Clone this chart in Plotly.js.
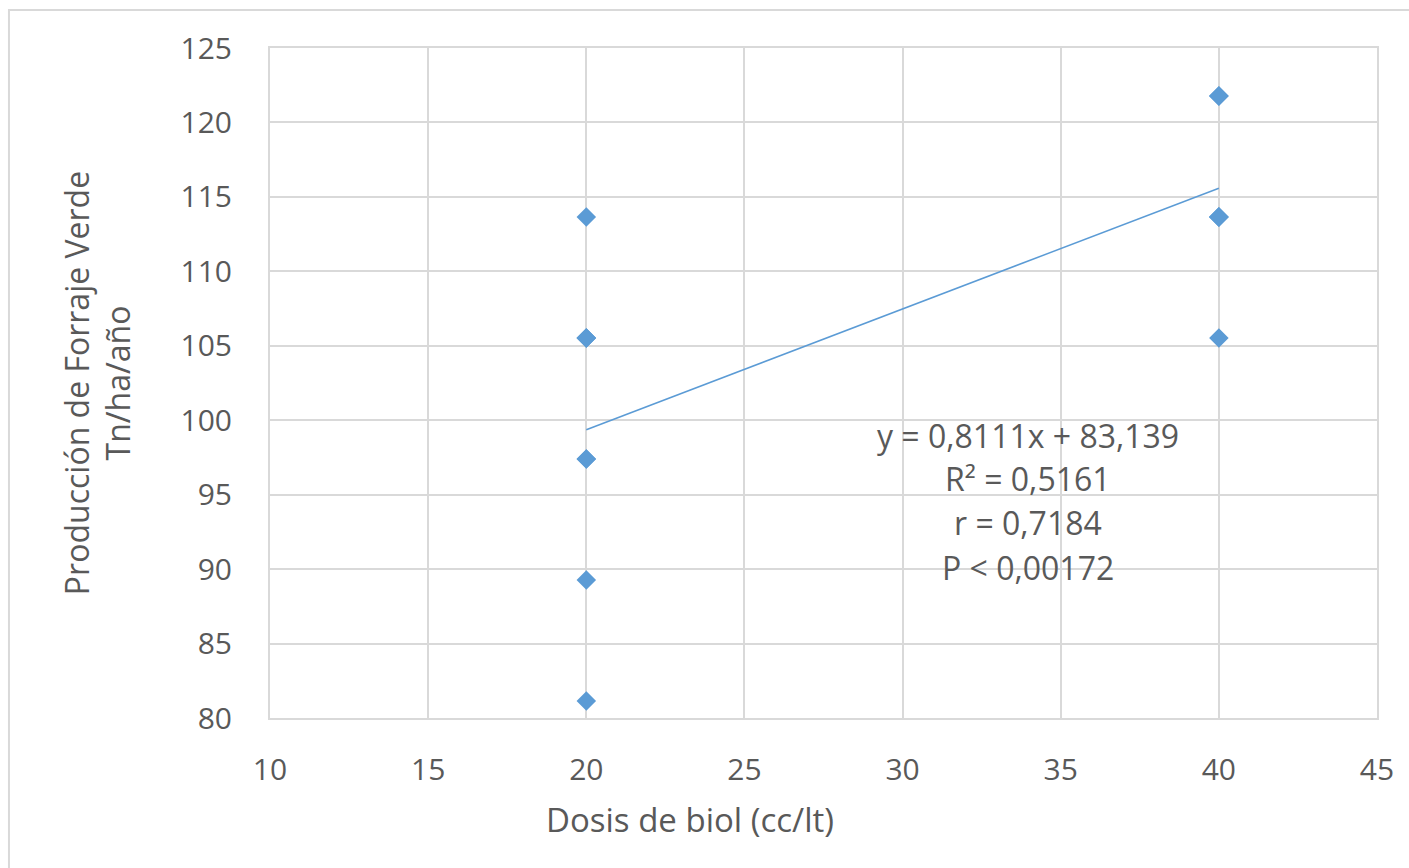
<!DOCTYPE html>
<html>
<head>
<meta charset="utf-8">
<script src="https://cdn.plot.ly/plotly-3.0.1.min.js"></script>
<style>html,body{margin:0;padding:0;background:#fff;}#chart{width:1409px;height:868px;}</style>
</head>
<body>
<div id="chart"></div>
<script>
// Data (duplicates overlap at the same positions)
const dosis = [20, 20, 20, 20, 20, 20, 20, 20, 40, 40, 40, 40, 40, 40, 40, 40];
const produccion = [81.14, 89.27, 97.4, 97.4, 105.52, 105.52, 105.52, 113.65,
                    105.52, 113.65, 113.65, 113.65, 113.65, 121.78, 121.78, 121.78];
const trendSlope = 0.8111;
const trendIntercept = 83.139;
const trendX = [20, 40];
const statsLines = ["y = 0,8111x + 83,139", "R² = 0,5161", "r = 0,7184", "P < 0,00172"];
const statsY = [99.0, 96.1, 93.1, 90.1];
const xTicks = [10, 15, 20, 25, 30, 35, 40, 45];
const yTicks = [80, 85, 90, 95, 100, 105, 110, 115, 120, 125];
const xTitle = "Dosis de biol (cc/lt)";
const yTitle = "Producción de Forraje Verde<br>Tn/ha/año";

const FONT = "Open Sans, Liberation Sans, sans-serif";
const TXT = "#595959";
const BLUE = "#5b9bd5";
const GRID = "#d9d9d9";

const traces = [
  {
    x: dosis, y: produccion, type: "scatter", mode: "markers",
    marker: {symbol: "diamond", size: 15, color: BLUE, line: {width: 0}},
    hoverinfo: "x+y", showlegend: false
  },
  {
    x: trendX, y: trendX.map(v => trendSlope * v + trendIntercept),
    type: "scatter", mode: "lines",
    line: {color: BLUE, width: 1.5}, hoverinfo: "skip", showlegend: false
  }
];

const annotations = statsLines.map((t, i) => ({
  x: 33.96, y: statsY[i], xref: "x", yref: "y", text: t, showarrow: false,
  font: {family: FONT, size: 32, color: TXT}, xanchor: "center", yanchor: "middle"
}));
annotations.push({
  x: 0.3794, y: -0.152, xref: "paper", yref: "paper", text: xTitle, showarrow: false,
  font: {family: FONT, size: 33, color: TXT}, xanchor: "center", yanchor: "middle"
});

const layout = {
  width: 1409, height: 868,
  margin: {l: 270, r: 32, t: 48, b: 150},
  paper_bgcolor: "#ffffff", plot_bgcolor: "#ffffff",
  showlegend: false,
  xaxis: {
    range: [10, 45], tickvals: xTicks, ticktext: xTicks.map(String),
    showgrid: true, gridcolor: GRID, gridwidth: 2,
    zeroline: false, showline: true, linecolor: GRID, linewidth: 2, mirror: true,
    ticks: "", ticklabelstandoff: 24,
    tickfont: {family: FONT, size: 30, color: TXT},
    automargin: false
  },
  yaxis: {
    range: [80, 125], tickvals: yTicks, ticktext: yTicks.map(String),
    showgrid: true, gridcolor: GRID, gridwidth: 2,
    zeroline: false, showline: true, linecolor: GRID, linewidth: 2, mirror: true,
    ticks: "", ticklabelstandoff: 30,
    tickfont: {family: FONT, size: 30, color: TXT},
    title: {text: yTitle, font: {family: FONT, size: 32, color: TXT}, standoff: 40},
    automargin: false
  },
  annotations: annotations,
  shapes: [{
    type: "rect", xref: "paper", yref: "paper",
    x0: -0.2358, x1: 1.05, y0: -0.3, y1: 1.0567,
    line: {color: GRID, width: 2}, fillcolor: "rgba(0,0,0,0)", layer: "below"
  }]
};

Plotly.newPlot("chart", traces, layout, {displayModeBar: false, staticPlot: true});
</script>
</body>
</html>
